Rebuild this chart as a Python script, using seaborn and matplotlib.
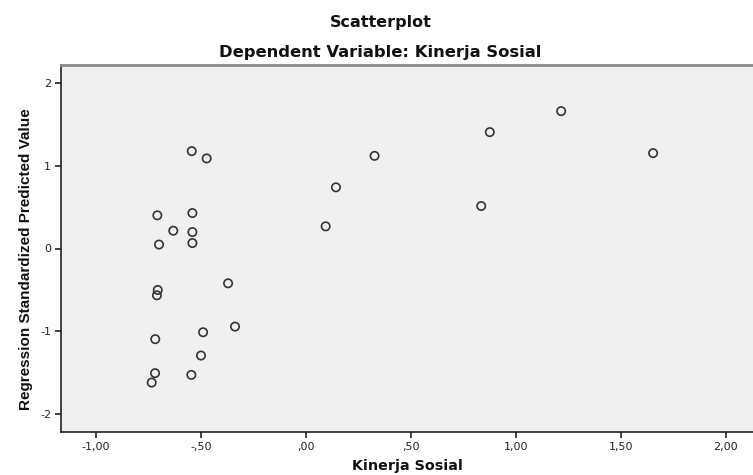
import numpy as np
import pandas as pd
import seaborn as sns
import matplotlib.pyplot as plt

kinerja_sosial = [1.216, 0.876, -0.544, -0.473, 0.327, 1.654, 0.143, -0.708, -0.541,
                  -0.632, -0.541, 0.094, 0.835, -0.700, -0.541, -0.371, -0.706, -0.710,
                  -0.338, -0.490, -0.718, -0.500, -0.719, -0.546, -0.735]
predicted_value = [1.662, 1.408, 1.178, 1.090, 1.121, 1.154, 0.740, 0.401, 0.429,
                   0.215, 0.199, 0.268, 0.514, 0.048, 0.066, -0.421, -0.502, -0.566,
                   -0.945, -1.013, -1.097, -1.295, -1.508, -1.529, -1.622]

x_ticks = [-1.0, -0.5, 0.0, 0.5, 1.0, 1.5, 2.0]
x_tick_labels = ["-1,00", "-,50", ",00", ",50", "1,00", "1,50", "2,00"]
y_ticks = [-2, -1, 0, 1, 2]
y_tick_labels = ["-2", "-1", "0", "1", "2"]

df = pd.DataFrame({"x": kinerja_sosial, "y": predicted_value})

sns.set_style("white")
plt.rcParams["font.family"] = ["DejaVu Sans"]
plt.rcParams["text.color"] = "#111111"
plt.rcParams["axes.labelcolor"] = "#111111"

fig = plt.figure(figsize=(7.53, 4.75), dpi=100)
ax = fig.add_axes([61 / 753, 43 / 475, 692 / 753, 367 / 475])
ax.set_facecolor("#f0f0f0")

sns.scatterplot(data=df, x="x", y="y", ax=ax, marker="o", s=36,
                facecolors="none", edgecolor="#333333", linewidth=1.2)

ax.set_xlim(-1.167, 2.13)
ax.set_ylim(-2.22, 2.22)
ax.set_xticks(x_ticks)
ax.set_xticklabels(x_tick_labels)
ax.set_yticks(y_ticks)
ax.set_yticklabels(y_tick_labels)
ax.tick_params(axis="both", bottom=True, left=True, direction="out", length=4,
               width=1.2, colors="#222222", labelsize=8, labelcolor="#222222", pad=3)

for side in ["left", "bottom"]:
    ax.spines[side].set_color("#222222")
    ax.spines[side].set_linewidth(1.2)
ax.spines["top"].set_color("#8a8a8a")
ax.spines["top"].set_linewidth(2)
ax.spines["right"].set_visible(False)

ax.set_xlabel("Kinerja Sosial", fontsize=10.3, fontweight="bold")
ax.set_ylabel("Regression Standardized Predicted Value", fontsize=11, fontweight="bold",
              family=["Liberation Sans", "DejaVu Sans"])
ax.yaxis.set_label_coords(-0.041, 0.47)
ax.xaxis.set_label_coords(0.5, -0.074)

fig.text(381 / 753, 1 - 23 / 475, "Scatterplot", ha="center", va="center",
         fontsize=11.5, fontweight="bold")
fig.text(380 / 753, 1 - 52 / 475, "Dependent Variable: Kinerja Sosial", ha="center",
         va="center", fontsize=11.8, fontweight="bold")

fig.savefig("out.png", dpi=100, facecolor="white")
